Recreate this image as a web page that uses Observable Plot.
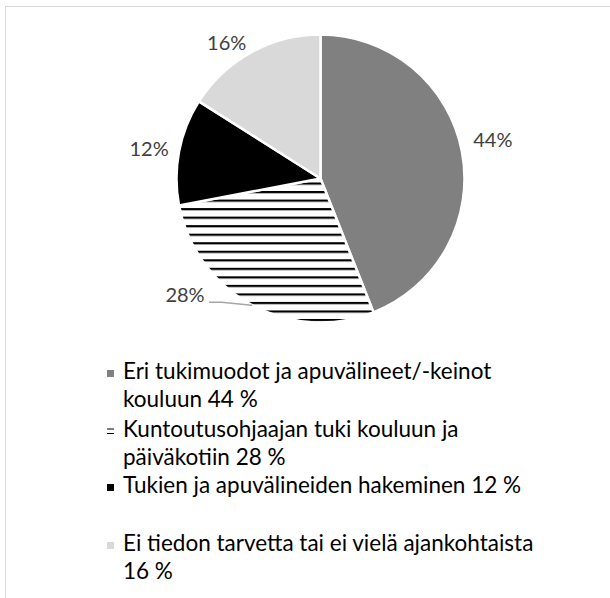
<!DOCTYPE html>
<html><head><meta charset="utf-8">
<script src="https://cdn.jsdelivr.net/npm/d3@7"></script>
<script src="https://cdn.jsdelivr.net/npm/@observablehq/plot@0.6"></script>
<style>
html,body{margin:0;padding:0;background:#fff;}
body{width:610px;height:598px;position:relative;overflow:hidden;font-family:Lato,"Open Sans",sans-serif;}
#frame{position:absolute;left:5px;top:6px;width:700px;height:700px;border-top:1px solid #d9d9d9;border-left:1px solid #d9d9d9;box-sizing:border-box;}
#chart{position:absolute;left:0;top:0;}
#legend{position:absolute;left:0;top:0;width:610px;height:598px;}
.ln{position:absolute;left:123px;font-size:22.5px;line-height:28px;color:#000;white-space:nowrap;}
.mk{position:absolute;left:107px;width:7px;height:7px;}
.mk svg{display:block;}
</style></head><body>
<div id="frame"></div>
<div id="chart"></div>
<div id="legend"></div>
<script>
// ---- data ----
const categories = [
  "Eri tukimuodot ja apuvälineet/-keinot kouluun",
  "Kuntoutusohjaajan tuki kouluun ja päiväkotiin",
  "Tukien ja apuvälineiden hakeminen",
  "Ei tiedon tarvetta tai ei vielä ajankohtaista"
];
const values = [44, 28, 12, 16];
const sliceLabels = ["44%", "28%", "12%", "16%"];
const legendLines = [
  ["Eri tukimuodot ja apuvälineet/-keinot", "kouluun 44 %"],
  ["Kuntoutusohjaajan tuki kouluun ja", "päiväkotiin 28 %"],
  ["Tukien ja apuvälineiden hakeminen 12 %"],
  ["Ei tiedon tarvetta tai ei vielä ajankohtaista", "16 %"]
];
const colors = ["#808080", "hatch", "#000000", "#d9d9d9"];

// ---- layout ----
const W = 610, H = 350, CX = 320.5, CY = 178.5, R = 144;
const pie = d3.pie().sort(null).value(d => d)(values);
const fillOf = c => c === "hatch" ? "url(#hatchPat)" : c;

const slices = (index, scales) => {
  const cx = scales.x(0), cy = scales.y(0);
  const r = scales.x(R) - scales.x(0);
  const g = d3.create("svg:g");
  const defs = g.append("defs");
  const pat = defs.append("pattern").attr("id", "hatchPat")
    .attr("patternUnits", "userSpaceOnUse")
    .attr("x", 0).attr("y", 4).attr("width", 8).attr("height", 8.53);
  pat.append("rect").attr("width", 8).attr("height", 8.53).attr("fill", "#fff");
  pat.append("rect").attr("y", 0).attr("width", 8).attr("height", 2.2).attr("fill", "#000");
  const arc = d3.arc().innerRadius(0).outerRadius(r);
  g.selectAll("path").data(pie).join("path")
    .attr("transform", `translate(${cx},${cy})`)
    .attr("d", arc)
    .attr("fill", (d, i) => fillOf(colors[i]))
    .attr("stroke", "#fff")
    .attr("stroke-width", 2.5)
    .attr("stroke-linejoin", "round");
  return g.node();
};

// label positions (data coords, y up)
const labelData = pie.map((p, i) => {
  const a = (p.startAngle + p.endAngle) / 2;
  const s = Math.sin(a), c = Math.cos(a);
  const edge = {x: R * s, y: R * c};
  if (i === 1) {
    return {text: sliceLabels[i], x: edge.x - 47, y: edge.y + 10, anchor: "end",
            leader: [[edge.x, edge.y], [edge.x - 30, edge.y + 3], [edge.x - 42, edge.y + 3]]};
  }
  const rr = R + 11;
  return {text: sliceLabels[i], x: rr * s, y: rr * c + (i === 0 ? 9 : 0), anchor: s >= 0 ? "start" : "end"};
});
const leaderPts = labelData.filter(d => d.leader).flatMap(d => d.leader.map(([x, y]) => ({x, y})));

const chart = Plot.plot({
  width: W, height: H, margin: 0,
  x: {domain: [-CX, W - CX], axis: null},
  y: {domain: [-(H - CY), CY], axis: null},
  style: {background: "transparent", overflow: "visible"},
  marks: [
    slices,
    Plot.line(leaderPts, {x: "x", y: "y", stroke: "#a6a6a6", strokeWidth: 1.5}),
    Plot.text(labelData.filter(d => d.anchor === "start"), {x: "x", y: "y", text: "text", textAnchor: "start",
      fill: "#404040", fontSize: 20, fontFamily: "Lato, 'Open Sans', sans-serif"}),
    Plot.text(labelData.filter(d => d.anchor === "end"), {x: "x", y: "y", text: "text", textAnchor: "end",
      fill: "#404040", fontSize: 20, fontFamily: "Lato, 'Open Sans', sans-serif"})
  ]
});
document.getElementById("chart").appendChild(chart);

// ---- legend ----
const legend = document.getElementById("legend");
const itemBaselines = [380, 438, 494, 552];
const lineStep = 28;
legendLines.forEach((lines, i) => {
  const b = itemBaselines[i];
  const mk = document.createElement("div");
  mk.className = "mk";
  mk.style.top = (b - 10) + "px";
  if (colors[i] === "hatch") {
    mk.innerHTML = '<svg width="7" height="7"><rect x="0" y="0.5" width="7" height="1" fill="#000"/><rect x="0" y="5" width="7" height="1" fill="#000"/></svg>';
  } else {
    mk.style.background = colors[i];
  }
  legend.appendChild(mk);
  lines.forEach((t, j) => {
    const d = document.createElement("div");
    d.className = "ln";
    d.textContent = t;
    d.style.top = (b + j * lineStep - 23) + "px";
    legend.appendChild(d);
  });
});
</script>
</body></html>
